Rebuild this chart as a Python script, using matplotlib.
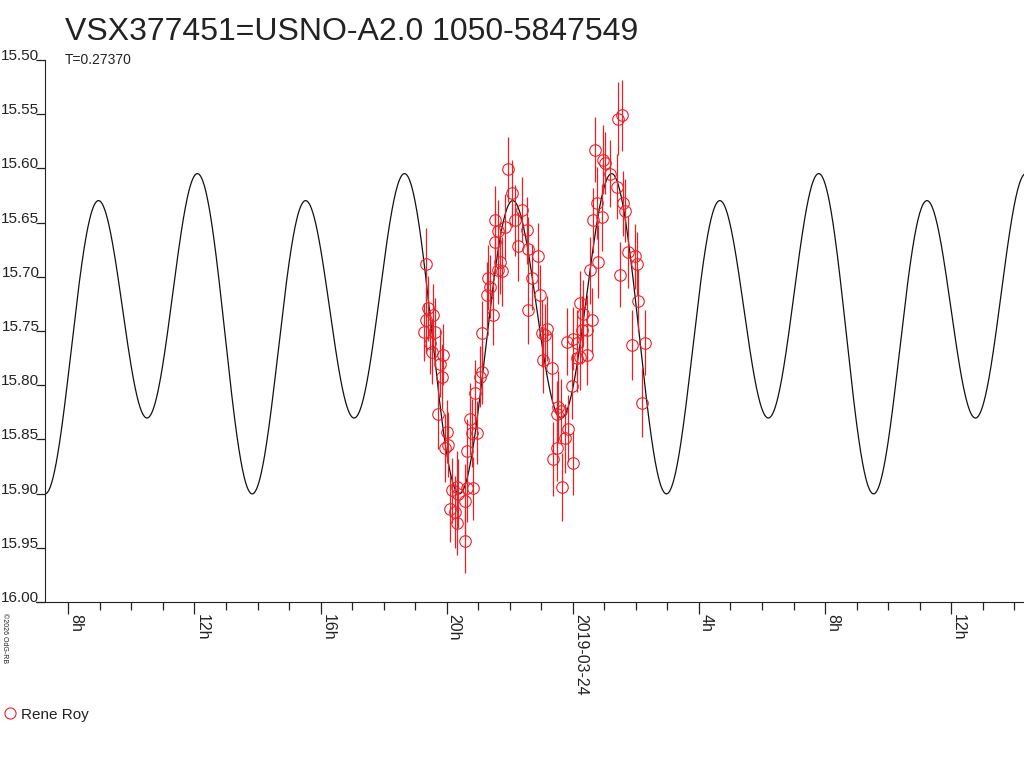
import matplotlib
matplotlib.use('Agg')
import matplotlib.pyplot as plt
import numpy as np
from matplotlib.lines import Line2D
from matplotlib.ticker import FixedLocator, MultipleLocator

plt.rcParams['font.family'] = ['Liberation Sans', 'DejaVu Sans']

# observations: hours since 2019-03-23 00:00 UT, magnitude, error
obs_hours = [19.334, 19.416, 19.575, 19.334, 19.280, 19.629, 19.470, 19.524, 19.892, 19.788,
             19.841, 19.734, 20.000, 20.051, 19.946, 20.317, 20.159, 20.368, 20.634, 20.844,
             20.580, 20.105, 20.263, 20.317, 20.580, 20.634, 20.739, 20.951, 20.793, 20.898,
             21.056, 21.110, 21.110, 21.478, 21.269, 21.373, 21.319, 21.637, 21.532, 21.690,
             21.744, 21.954, 22.062, 21.532, 21.849, 22.166, 21.637, 22.537, 22.379, 22.271,
             22.588, 22.905, 22.696, 22.959, 22.588, 23.172, 23.118, 23.013, 23.064, 23.330,
             23.489, 24.228, 24.332, 24.599, 24.440, 23.806, 24.015, 24.123, 24.123, 24.440,
             23.964, 23.540, 23.610, 23.857, 23.752, 23.489, 23.381, 24.015, 23.647, 25.550,
             25.442, 24.703, 24.967, 25.021, 25.179, 25.392, 24.757, 25.601, 25.655, 24.916,
             24.650, 25.760, 25.972, 26.026, 24.808, 24.545, 25.496, 26.077, 24.282, 26.289,
             25.867, 26.185, 24.228]
obs_mag = [15.688, 15.729, 15.735, 15.740, 15.751, 15.751, 15.761, 15.769, 15.772, 15.780,
           15.792, 15.827, 15.843, 15.855, 15.858, 15.894, 15.897, 15.900, 15.895, 15.895,
           15.907, 15.914, 15.917, 15.927, 15.944, 15.861, 15.831, 15.844, 15.844, 15.807,
           15.792, 15.788, 15.752, 15.735, 15.717, 15.709, 15.701, 15.694, 15.668, 15.686,
           15.695, 15.601, 15.623, 15.648, 15.654, 15.648, 15.658, 15.657, 15.638, 15.672,
           15.674, 15.681, 15.701, 15.717, 15.731, 15.748, 15.754, 15.752, 15.777, 15.784,
           15.827, 15.724, 15.734, 15.740, 15.749, 15.760, 15.757, 15.761, 15.775, 15.772,
           15.801, 15.820, 15.824, 15.840, 15.849, 15.858, 15.868, 15.872, 15.894, 15.551,
           15.554, 15.583, 15.592, 15.595, 15.605, 15.617, 15.632, 15.632, 15.639, 15.645,
           15.648, 15.677, 15.681, 15.688, 15.686, 15.694, 15.698, 15.722, 15.749, 15.761,
           15.763, 15.816, 15.774]
obs_err = [0.033, 0.030, 0.028, 0.030, 0.027, 0.031, 0.029, 0.030, 0.028, 0.031,
           0.030, 0.032, 0.029, 0.030, 0.031, 0.033, 0.030, 0.032, 0.031, 0.029,
           0.034, 0.031, 0.033, 0.030, 0.029, 0.030, 0.033, 0.029, 0.031, 0.030,
           0.028, 0.029, 0.030, 0.028, 0.031, 0.029, 0.030, 0.031, 0.029, 0.030,
           0.032, 0.030, 0.031, 0.032, 0.030, 0.033, 0.029, 0.031, 0.030, 0.032,
           0.029, 0.031, 0.030, 0.028, 0.031, 0.030, 0.029, 0.031, 0.030, 0.032,
           0.031, 0.029, 0.031, 0.030, 0.032, 0.031, 0.029, 0.030, 0.031, 0.028,
           0.030, 0.033, 0.030, 0.031, 0.032, 0.030, 0.034, 0.029, 0.031, 0.033,
           0.034, 0.030, 0.032, 0.029, 0.031, 0.030, 0.033, 0.030, 0.029, 0.031,
           0.030, 0.033, 0.030, 0.029, 0.034, 0.031, 0.030, 0.029, 0.031, 0.030,
           0.032, 0.032, 0.030]

# fitted light curve model
period_days = 0.27370
epoch_hours = 26.945
fourier_c0 = 15.7418
fourier_cos = [0.035, 0.1233]
fourier_sin = [0.0125, 0.0]

tick_hours = [8, 12, 16, 20, 24, 28, 32, 36]
tick_labels = ['8h', '12h', '16h', '20h', '2019-03-24', '4h', '8h', '12h']

red = '#ea2027'
textc = '#222222'

fig = plt.figure(figsize=(10.24, 7.68), dpi=100)
ax = fig.add_axes([45 / 1024, 166 / 768, 979 / 1024, 542 / 768])

t = np.linspace(7.26, 38.31, 3000)
phase = (t - epoch_hours) / (period_days * 24)
model = fourier_c0 + sum(fourier_cos[k] * np.cos(2 * np.pi * (k + 1) * phase)
                         + fourier_sin[k] * np.sin(2 * np.pi * (k + 1) * phase)
                         for k in range(len(fourier_cos)))
ax.plot(t, model, color='#111111', lw=0.9, zorder=2)

ax.errorbar(obs_hours, obs_mag, yerr=obs_err, fmt='none', ecolor=red, elinewidth=0.9,
            capsize=0, zorder=3)
ax.plot(obs_hours, obs_mag, 'o', mfc='none', mec=red, mew=0.8, ms=8.3, zorder=4)

ax.set_xlim(7.26, 38.31)
ax.set_ylim(16.00, 15.50)

ax.spines['top'].set_visible(False)
ax.spines['right'].set_visible(False)
ax.spines['left'].set_color(textc)
ax.spines['bottom'].set_color(textc)
ax.spines['bottom'].set_bounds(7.26 - 9 / 31.53, 38.31)

ax.xaxis.set_major_locator(FixedLocator(tick_hours))
ax.set_xticklabels(tick_labels)
ax.xaxis.set_minor_locator(MultipleLocator(1))
ax.tick_params(axis='x', which='major', length=8.5, width=0.9, color=textc, pad=0,
               labelsize=11.5, labelcolor=textc)
ax.tick_params(axis='x', which='minor', length=6, width=0.9, color=textc)
plt.setp(ax.get_xticklabels(), rotation=270, ha='left', va='top')

ax.set_yticks([15.50, 15.55, 15.60, 15.65, 15.70, 15.75, 15.80, 15.85, 15.90, 15.95, 16.00])
ax.yaxis.set_major_formatter(plt.FormatStrFormatter('%.2f'))
ax.tick_params(axis='y', length=6.5, width=0.9, color=textc, pad=-2.5,
               labelsize=11, labelcolor=textc)
plt.setp(ax.get_yticklabels(), va='baseline')

fig.text(65 / 1024, 1 - 40 / 768, 'VSX377451=USNO-A2.0 1050-5847549', fontsize=23,
         color=textc, ha='left', va='baseline')
fig.text(65 / 1024, 1 - 64 / 768, 'T=0.27370', fontsize=10, color=textc,
         ha='left', va='baseline')
fig.text(1 / 1024, 1 - 613 / 768, '\u00a92026 OdG-RB', fontsize=5, color=textc,
         rotation=270, ha='left', va='top')

fig.add_artist(Line2D([10 / 1024], [1 - 713 / 768], marker='o', mfc='none', mec=red,
                      mew=0.8, ms=8, transform=fig.transFigure))
fig.text(21 / 1024, 1 - 719 / 768, 'Rene Roy', fontsize=11, color=textc,
         ha='left', va='baseline')

fig.savefig('out.png', dpi=100)
